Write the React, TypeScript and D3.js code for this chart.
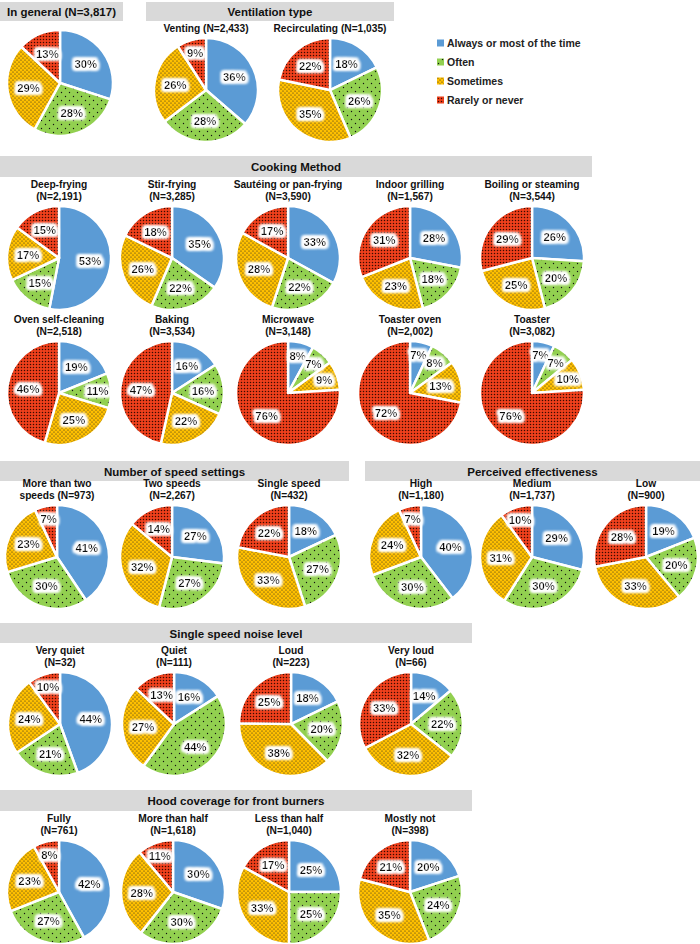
import React, { useEffect } from 'react';
import * as d3 from 'd3';

// response categories (legend order = slice order)
const CATEGORIES = ['Always or most of the time', 'Often', 'Sometimes', 'Rarely or never'];
const COLORS = ['#5b9bd5', '#92d050', '#ffc000', '#f0401c'];

// In general + ventilation type
const generalTitle = ['In general (N=3,817)'];
const generalValues = [30, 28, 29, 13];
const ventTitles = [['Venting (N=2,433)'], ['Recirculating (N=1,035)']];
const ventValues = [[36, 28, 26, 9], [18, 26, 35, 22]];

// Cooking method
const cookTitles = [
  ['Deep-frying', '(N=2,191)'], ['Stir-frying', '(N=3,285)'], ['Sautéing or pan-frying', '(N=3,590)'],
  ['Indoor grilling', '(N=1,567)'], ['Boiling or steaming', '(N=3,544)'],
  ['Oven self-cleaning', '(N=2,518)'], ['Baking', '(N=3,534)'], ['Microwave', '(N=3,148)'],
  ['Toaster oven', '(N=2,002)'], ['Toaster', '(N=3,082)'],
];
const cookValues = [
  [53, 15, 17, 15], [35, 22, 26, 18], [33, 22, 28, 17], [28, 18, 23, 31], [26, 20, 25, 29],
  [19, 11, 25, 46], [16, 16, 22, 47], [8, 7, 9, 76], [7, 8, 13, 72], [7, 7, 10, 76],
];

// Number of speed settings
const speedTitles = [['More than two', 'speeds (N=973)'], ['Two speeds', '(N=2,267)'], ['Single speed', '(N=432)']];
const speedValues = [[41, 30, 23, 7], [27, 27, 32, 14], [18, 27, 33, 22]];

// Perceived effectiveness
const effTitles = [['High', '(N=1,180)'], ['Medium', '(N=1,737)'], ['Low', '(N=900)']];
const effValues = [[40, 30, 24, 7], [29, 30, 31, 10], [19, 20, 33, 28]];

// Single speed noise level
const noiseTitles = [['Very quiet', '(N=32)'], ['Quiet', '(N=111)'], ['Loud', '(N=223)'], ['Very loud', '(N=66)']];
const noiseValues = [[44, 21, 24, 10], [16, 44, 27, 13], [18, 20, 38, 25], [14, 22, 32, 33]];

// Hood coverage for front burners
const hoodTitles = [['Fully', '(N=761)'], ['More than half', '(N=1,618)'], ['Less than half', '(N=1,040)'], ['Mostly not', '(N=398)']];
const hoodValues = [[42, 27, 23, 8], [30, 30, 28, 11], [25, 25, 33, 17], [20, 24, 35, 21]];

const FONT = '"Liberation Sans", Arial, sans-serif';
const R = 52;

const headers = [
  { x: 0, y: 2, w: 123, h: 19, label: 'In general (N=3,817)' },
  { x: 146, y: 2, w: 248, h: 19, label: 'Ventilation type' },
  { x: 0, y: 156, w: 592, h: 21, label: 'Cooking Method' },
  { x: 0, y: 461, w: 349, h: 20, label: 'Number of speed settings' },
  { x: 365, y: 461, w: 335, h: 20, label: 'Perceived effectiveness' },
  { x: 0, y: 623, w: 472, h: 20, label: 'Single speed noise level' },
  { x: 0, y: 790, w: 472, h: 21, label: 'Hood coverage for front burners' },
];

type Spec = { title: string[]; values: number[]; cx: number; cy: number; r?: number };

function place(titles: string[][], values: number[][], xs: number[], ys: number[]): Spec[] {
  return values.map((v, i) => ({ title: titles[i], values: v, cx: xs[i], cy: ys[i] }));
}

const cookXs = [59, 172, 288, 410, 532];
const pies: Spec[] = [
  ...place(ventTitles, ventValues, [206, 330], [90, 90]),
  ...place(cookTitles, cookValues, [...cookXs, ...cookXs], [258, 258, 258, 258, 258, 393, 393, 393, 393, 393]),
  ...place(speedTitles, speedValues, [57, 172, 289], [557, 557, 557]),
  ...place(effTitles, effValues, [421, 532, 646], [557, 557, 557]),
  ...place(noiseTitles, noiseValues, [60, 174, 291, 411], [724, 724, 724, 724]),
  ...place(hoodTitles, hoodValues, [59, 173, 289, 410], [892, 892, 892, 892]),
];

const pieGen = d3.pie<number>().sort(null).value(d => d);

function Pie({ spec, showTitle = true }: { spec: Spec; showTitle?: boolean }) {
  const r = spec.r ?? R;
  const arcs = pieGen(spec.values);
  const arc = d3.arc<d3.PieArcDatum<number>>().innerRadius(0).outerRadius(r);
  const total = d3.sum(spec.values);
  const top = spec.cy - r;
  const lines = spec.title;
  return (
    <g>
      {showTitle && lines.map((t, i) => (
        <text key={i} x={spec.cx} y={top - 6 - (lines.length - 1 - i) * 12} textAnchor="middle"
          fontFamily={FONT} fontWeight="bold" fontSize={10.2} fill="#111">{t}</text>
      ))}
      <g transform={`translate(${spec.cx},${spec.cy})`}>
        {arcs.map((a, i) => (
          <path key={i} d={arc(a) || ''} fill={`url(#pat${i})`} stroke="#fff" strokeWidth={2.5} strokeLinejoin="round" />
        ))}
        {arcs.map((a, i) => {
          const frac = a.value / total;
          const lr = r * (frac < 0.12 ? 0.74 : 0.6);
          const mid = (a.startAngle + a.endAngle) / 2;
          const x = lr * Math.sin(mid);
          const y = -lr * Math.cos(mid);
          return (
            <text key={'l' + i} x={x} y={y + 4} textAnchor="middle" fontFamily={FONT} fontWeight="bold"
              fontSize={11.3} fill="#111" filter="url(#glow)">{a.value}%</text>
          );
        })}
      </g>
    </g>
  );
}

export default function App() {
  useEffect(() => {
    document.body.style.margin = '0';
  }, []);

  return (
    <svg width={700} height={944} style={{ display: 'block', background: '#fff' }}>
      <defs>
        <pattern id="pat0" width={4} height={4} patternUnits="userSpaceOnUse">
          <rect width={4} height={4} fill={COLORS[0]} />
        </pattern>
        <pattern id="pat1" width={8} height={8} patternUnits="userSpaceOnUse">
          <rect width={8} height={8} fill={COLORS[1]} />
          <circle cx={1.5} cy={1.5} r={0.7} fill="#111" />
          <circle cx={5.5} cy={5.5} r={0.7} fill="#111" />
        </pattern>
        <pattern id="pat2" width={4} height={4} patternUnits="userSpaceOnUse">
          <rect width={4} height={4} fill={COLORS[2]} />
          <circle cx={1} cy={1} r={0.6} fill="#222" />
          <circle cx={3} cy={3} r={0.6} fill="#222" />
        </pattern>
        <pattern id="pat3" width={3} height={3} patternUnits="userSpaceOnUse">
          <rect width={3} height={3} fill={COLORS[3]} />
          <circle cx={1.5} cy={1.5} r={0.75} fill="#3a0a00" />
        </pattern>
        <filter id="glow" x="-30%" y="-50%" width="160%" height="200%">
          <feMorphology in="SourceAlpha" operator="dilate" radius={2} result="d" />
          <feGaussianBlur in="d" stdDeviation={1.6} result="b" />
          <feFlood floodColor="#fff" />
          <feComposite in2="b" operator="in" result="g" />
          <feMerge>
            <feMergeNode in="g" />
            <feMergeNode in="g" />
            <feMergeNode in="g" />
            <feMergeNode in="SourceGraphic" />
          </feMerge>
        </filter>
      </defs>

      {/* section headers */}
      {headers.map((h, i) => (
        <g key={i}>
          <rect x={h.x} y={h.y} width={h.w} height={h.h} fill="#d9d9d9" />
          <text x={h.x + h.w / 2} y={h.y + h.h / 2 + 4.5} textAnchor="middle" fontFamily={FONT}
            fontWeight="bold" fontSize={11.5} fill="#111">{h.label}</text>
        </g>
      ))}

      <Pie spec={{ title: generalTitle, values: generalValues, cx: 60, cy: 83, r: 53 }} showTitle={false} />
      {pies.map((p, i) => <Pie key={i} spec={p} />)}

      {/* legend */}
      {CATEGORIES.map((c, i) => (
        <g key={c} transform={`translate(437,${43 + i * 19})`}>
          <rect x={0} y={-3.5} width={7} height={7} fill={`url(#pat${i})`} />
          <text x={10} y={4} fontFamily={FONT} fontWeight="bold" fontSize={10.5} fill="#222">{c}</text>
        </g>
      ))}
    </svg>
  );
}
